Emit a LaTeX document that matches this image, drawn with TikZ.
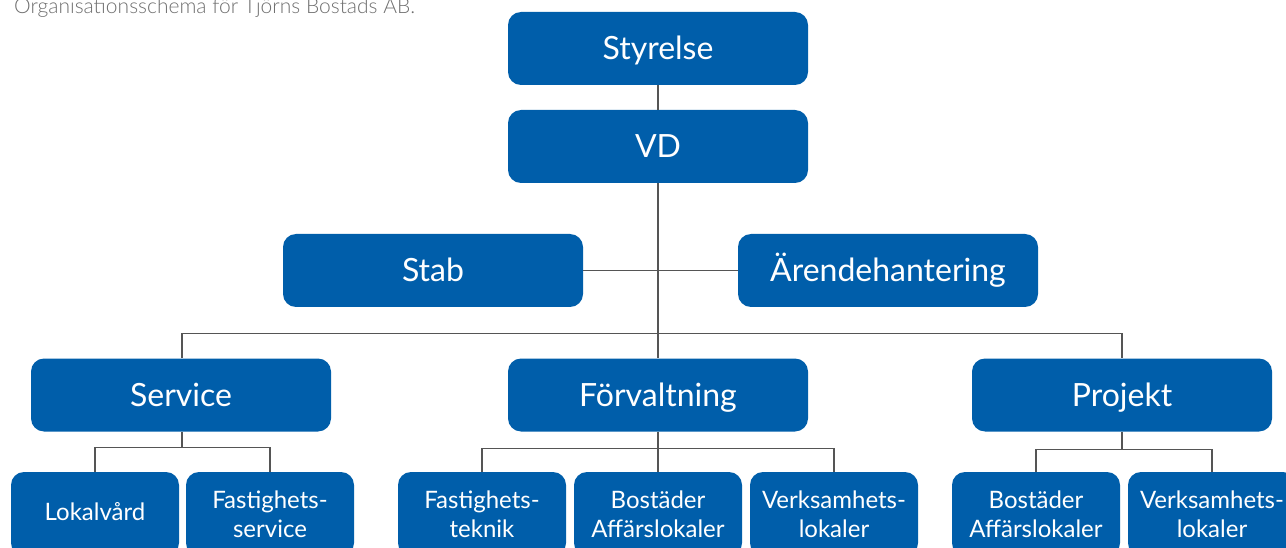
\documentclass[tikz,border=0pt]{standalone}
\usepackage{fontspec}
\setmainfont{Lato}
\newfontfamily\capfont{Lato Light}
\usetikzlibrary{calc}
\definecolor{boxblue}{RGB}{0,94,170}
\definecolor{linegray}{RGB}{85,85,85}
\definecolor{capgray}{RGB}{110,110,110}
\tikzset{
  mainbox/.style={fill=boxblue, text=white, rounded corners=13pt, minimum width=300pt, minimum height=73pt, inner sep=0pt,
    font=\fontsize{32}{38}\selectfont, text height=23pt, text depth=0pt},
  subbox/.style={fill=boxblue, text=white, rounded corners=13pt, minimum width=168pt, minimum height=84pt, inner sep=0pt,
    align=center, font=\fontsize{24}{29}\selectfont},
  conn/.style={draw=linegray, line width=1.3pt},
  caption/.style={text=capgray, font=\capfont\fontsize{21}{25}\selectfont, inner sep=0pt, anchor=base west}
}
\begin{document}
\begin{tikzpicture}[x=1pt,y=-1pt]
\clip (0,0) rectangle (1286,548);
\node[caption] (cap) at (14,13.3) {Organisationsschema för Tjörns Bostads AB.};
% main boxes
\node[mainbox] (sty) at (658,48.5) {Styrelse};
\node[mainbox] (vd) at (658,146.5) {VD};
\node[mainbox] (stab) at (433,270.5) {Stab};
\node[mainbox] (aren) at (888,270.5) {Ärendehantering};
\node[mainbox] (serv) at (181,395) {Service};
\node[mainbox] (forv) at (658,395) {Förvaltning};
\node[mainbox] (proj) at (1122,395) {Projekt};
% sub boxes
\node[subbox, text depth=6pt] (lok) at (95,514) {Lokalvård};
\node[subbox] (fs) at (270,514) {Fastighets-\\service};
\node[subbox] (ft) at (482,514) {Fastighets-\\teknik};
\node[subbox] (fba) at (658,514) {Bostäder\\Affärslokaler};
\node[subbox] (fvl) at (834,514) {Verksamhets-\\lokaler};
\node[subbox] (pba) at (1036,514) {Bostäder\\Affärslokaler};
\node[subbox] (pvl) at (1212,514) {Verksamhets-\\lokaler};
% connectors
\draw[conn] (sty.south) -- (vd.north);
\draw[conn] (vd.south) -- (forv.north);
\draw[conn] (stab.east) -- (aren.west);
\draw[conn] ($(serv.north)+(1,0)$) -- ++(0,-25) -| (proj.north);
\draw[conn] (lok.north) -- ++(0,-24) -| (fs.north);
\draw[conn] ($(serv.south)+(1,0)$) -- ++(0,16);
\draw[conn] (ft.north) -- ++(0,-23) -| (fvl.north);
\draw[conn] (forv.south) -- (fba.north);
\draw[conn] (pba.north) -- ++(0,-22) -| (pvl.north);
\draw[conn] (proj.south) -- ++(0,18);
\end{tikzpicture}
\end{document}
